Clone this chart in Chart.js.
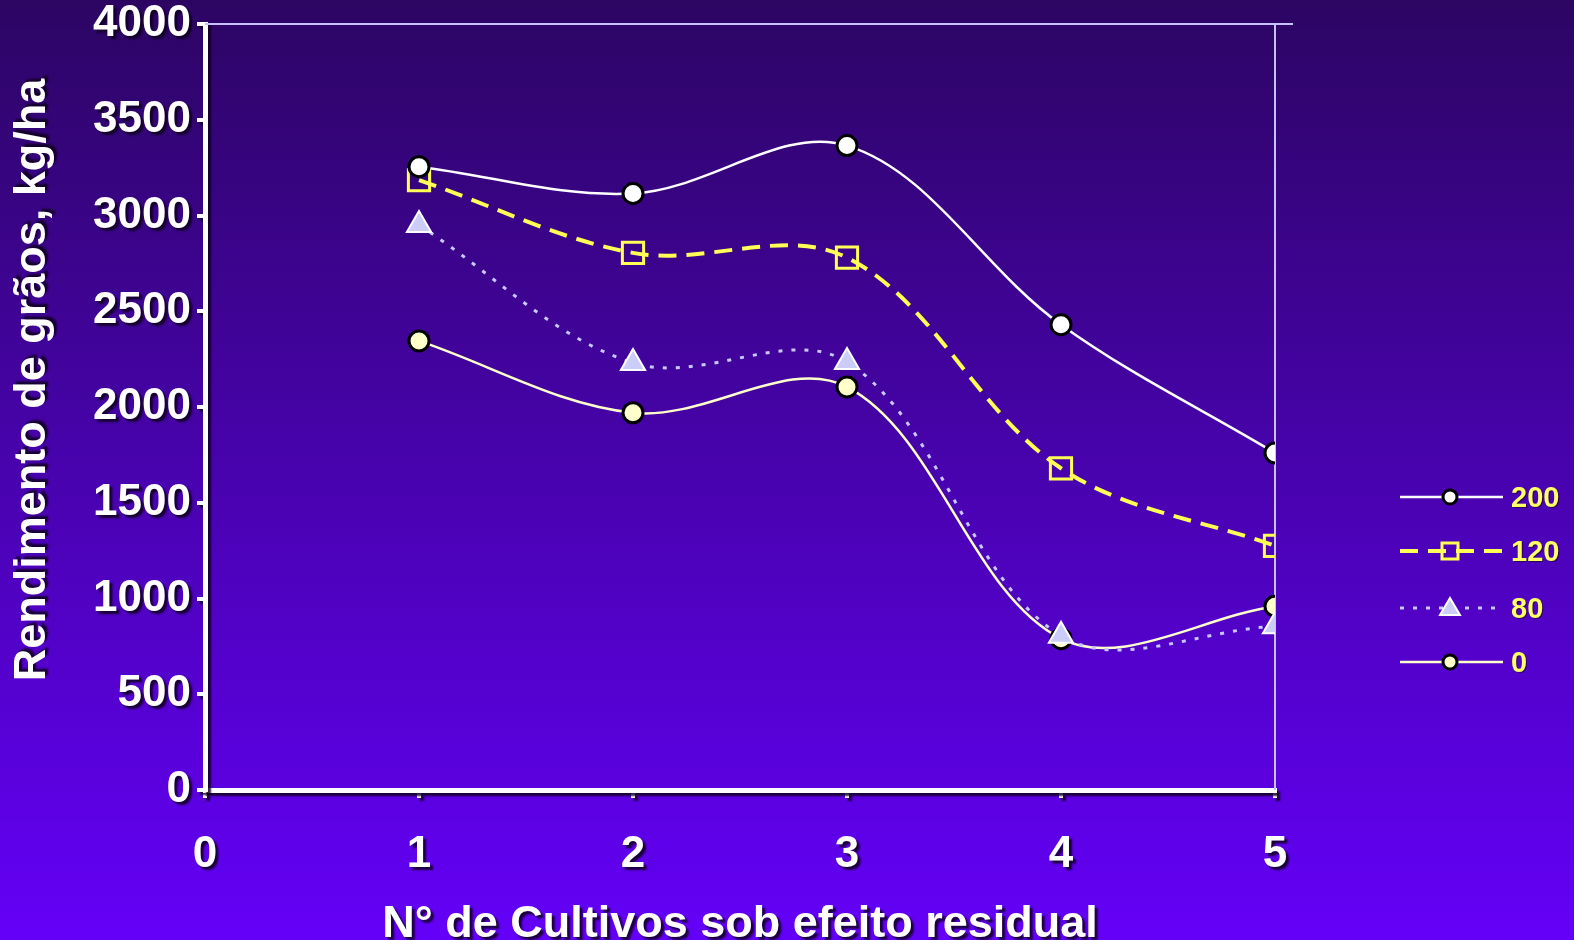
<!DOCTYPE html>
<html>
<head>
<meta charset="utf-8">
<script src="https://cdn.jsdelivr.net/npm/chart.js@4.4.0/dist/chart.umd.min.js"></script>
<style>
  html, body { margin: 0; padding: 0; background: #4a00b0; }
  #wrap { width: 1574px; height: 940px; }
</style>
</head>
<body>
<div id="wrap"><canvas id="chart"></canvas></div>
<script>
// cultivos (x) and rendimento per N dose
const cultivos = [1, 2, 3, 4, 5];
const doses = ['200', '120', '80', '0'];
const n200 = [3255, 3115, 3365, 2430, 1760];
const n120 = [3185, 2805, 2780, 1680, 1275];
const n80 = [2950, 2230, 2235, 805, 855];
const n0 = [2345, 1970, 2105, 790, 960];
const yTicks = [0, 500, 1000, 1500, 2000, 2500, 3000, 3500, 4000];
const xTicks = [0, 1, 2, 3, 4, 5];

const toPoints = arr => arr.map((v, i) => ({ x: cultivos[i], y: v }));
const FONT = '"Liberation Sans", Arial, sans-serif';

// background gradient + text shadow for axes
const backdrop = {
  id: 'backdrop',
  beforeDraw(chart) {
    const ctx = chart.ctx;
    const g = ctx.createLinearGradient(0, 0, 0, chart.height);
    g.addColorStop(0, '#2c0563');
    g.addColorStop(1, '#6400f8');
    ctx.save();
    ctx.fillStyle = g;
    ctx.fillRect(0, 0, chart.width, chart.height);
    ctx.restore();
    ctx.save();
    ctx.shadowColor = 'rgba(15,0,30,0.85)';
    ctx.shadowOffsetX = 3;
    ctx.shadowOffsetY = 3;
    ctx.shadowBlur = 2;
  },
  beforeDatasetsDraw(chart) {
    const ctx = chart.ctx;
    ctx.restore();
    const a = chart.chartArea;
    // thin frame at top and right
    ctx.save();
    ctx.strokeStyle = '#c8c0ff';
    ctx.lineWidth = 2;
    ctx.beginPath();
    ctx.moveTo(a.left, a.top);
    ctx.lineTo(a.right + 18, a.top);
    ctx.moveTo(a.right, a.top);
    ctx.lineTo(a.right, a.bottom);
    ctx.stroke();
    ctx.restore();
  },
  afterDatasetsDraw(chart) {
    // y title drawn by hand so it can sit a little above the plot centre
    const ctx = chart.ctx;
    ctx.save();
    ctx.translate(33, 380);
    ctx.rotate(-Math.PI / 2);
    ctx.font = 'bold 45px ' + FONT;
    ctx.textAlign = 'center';
    ctx.textBaseline = 'middle';
    ctx.shadowColor = 'rgba(15,0,30,0.85)';
    ctx.shadowOffsetX = 3;
    ctx.shadowOffsetY = -3;
    ctx.shadowBlur = 2;
    ctx.fillStyle = '#ffffff';
    ctx.fillText('Rendimento de grãos, kg/ha', 0, 0);
    ctx.restore();
  }
};

// custom legend: line sample + marker + label
const sideLegend = {
  id: 'sideLegend',
  afterDraw(chart) {
    const ctx = chart.ctx;
    const ys = [497, 551, 608, 662];
    chart.data.datasets.forEach((ds, i) => {
      const y = ys[i];
      const cx = 1450;
      ctx.save();
      ctx.strokeStyle = ds.borderColor;
      ctx.lineWidth = ds.borderWidth;
      ctx.setLineDash(ds.borderDash || []);
      ctx.beginPath();
      ctx.moveTo(1400, y);
      ctx.lineTo(1503, y);
      ctx.stroke();
      ctx.setLineDash([]);
      ctx.fillStyle = ds.pointBackgroundColor;
      ctx.strokeStyle = ds.pointBorderColor;
      ctx.lineWidth = ds.pointBorderWidth;
      ctx.beginPath();
      const r = ds.legendRadius;
      if (ds.pointStyle === 'circle') {
        ctx.arc(cx, y, r, 0, Math.PI * 2);
        ctx.fill();
        ctx.stroke();
      } else if (ds.pointStyle === 'rect') {
        ctx.strokeRect(cx - r, y - r, 2 * r, 2 * r);
      } else {
        ctx.moveTo(cx, y - r);
        ctx.lineTo(cx + r, y + r * 0.7);
        ctx.lineTo(cx - r, y + r * 0.7);
        ctx.closePath();
        ctx.fill();
        ctx.stroke();
      }
      ctx.fillStyle = '#ffff66';
      ctx.font = 'bold 29px ' + FONT;
      ctx.textBaseline = 'middle';
      ctx.shadowColor = 'rgba(15,0,30,0.6)';
      ctx.shadowOffsetX = 1;
      ctx.shadowOffsetY = 1;
      ctx.fillText(doses[i], 1511, y + 2);
      ctx.restore();
    });
  }
};

new Chart(document.getElementById('chart'), {
  type: 'line',
  data: {
    datasets: [
      {
        label: doses[0],
        data: toPoints(n200),
        borderColor: '#ffffff',
        borderWidth: 2.5,
        pointStyle: 'circle',
        pointRadius: 10,
        legendRadius: 7,
        pointBackgroundColor: '#ffffff',
        pointBorderColor: '#000000',
        pointBorderWidth: 3,
        tension: 0.35
      },
      {
        label: doses[1],
        data: toPoints(n120),
        borderColor: '#ffff55',
        borderWidth: 4,
        borderDash: [18, 10],
        pointStyle: 'rect',
        pointRadius: 15,
        legendRadius: 8,
        pointBackgroundColor: 'rgba(0,0,0,0)',
        pointBorderColor: '#ffff55',
        pointBorderWidth: 3,
        tension: 0.35
      },
      {
        label: doses[2],
        data: toPoints(n80),
        borderColor: '#c8c8ff',
        borderWidth: 3,
        borderDash: [4, 9],
        pointStyle: 'triangle',
        pointRadius: 14,
        legendRadius: 10,
        pointBackgroundColor: '#ccccf8',
        pointBorderColor: '#ffffff',
        pointBorderWidth: 2,
        tension: 0.35
      },
      {
        label: doses[3],
        data: toPoints(n0),
        borderColor: '#ffffcc',
        borderWidth: 2.5,
        pointStyle: 'circle',
        pointRadius: 10,
        legendRadius: 7,
        pointBackgroundColor: '#ffffcc',
        pointBorderColor: '#000000',
        pointBorderWidth: 3,
        tension: 0.35
      }
    ]
  },
  options: {
    responsive: true,
    maintainAspectRatio: false,
    animation: false,
    layout: { padding: { top: 24, right: 299, left: 0, bottom: 0 } },
    plugins: {
      legend: { display: false },
      tooltip: { enabled: false }
    },
    scales: {
      x: {
        type: 'linear',
        min: 0,
        max: 5,
        afterBuildTicks: scale => { scale.ticks = xTicks.map(v => ({ value: v })); },
        afterFit: scale => { scale.height = 150; },
        border: { color: '#ffffff', width: 5 },
        grid: { drawOnChartArea: false, drawTicks: true, tickLength: 8, color: '#ffffff', lineWidth: 4 },
        ticks: {
          color: '#ffffff',
          padding: 30,
          callback: v => String(v),
          font: { family: FONT, size: 44, weight: 'bold' }
        },
        title: {
          display: true,
          text: 'N° de Cultivos sob efeito residual',
          color: '#ffffff',
          padding: { top: 0, bottom: -12 },
          font: { family: FONT, size: 45, weight: 'bold' }
        }
      },
      y: {
        min: 0,
        max: 4000,
        afterBuildTicks: scale => { scale.ticks = yTicks.map(v => ({ value: v })); },
        afterFit: scale => { scale.width = 205; scale.paddingTop = 0; scale.paddingBottom = 0; },
        border: { color: '#ffffff', width: 5 },
        grid: { drawOnChartArea: false, drawTicks: true, tickLength: 8, color: '#ffffff', lineWidth: 4 },
        ticks: {
          color: '#ffffff',
          padding: 6,
          callback: v => String(v),
          font: { family: FONT, size: 44, weight: 'bold' }
        },
        title: { display: false }
      }
    }
  },
  plugins: [backdrop, sideLegend]
});
</script>
</body>
</html>
